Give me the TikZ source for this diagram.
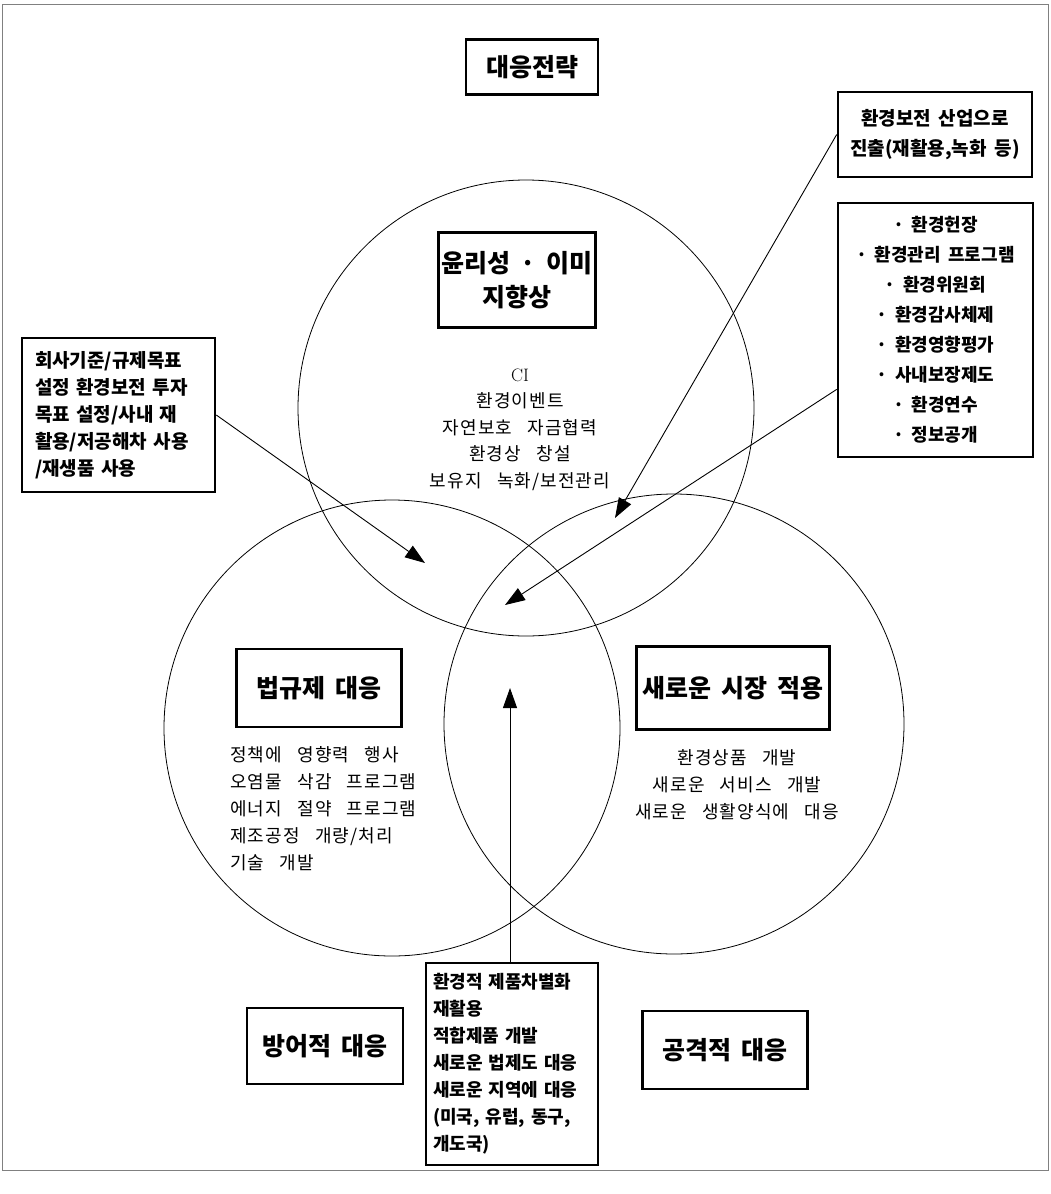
\documentclass[tikz,border=0pt]{standalone}
\usepackage{fontspec}
\usetikzlibrary{arrows.meta}
\newfontfamily\kr{Noto Sans CJK KR}
\newfontfamily\krwide{Noto Sans CJK KR}[WordSpace=3, LetterSpace=6]
\newfontfamily\krtitle{Noto Sans CJK KR}[WordSpace=1.8]
\begin{document}
\begin{tikzpicture}[x=1pt, y=-1pt,
                    framebox/.style={draw, fill=white, line width=2.6pt, inner sep=0pt},
                    titlebox/.style={framebox, align=center, font=\krtitle\bfseries\fontsize{25}{34}\selectfont},
                    listbox/.style={framebox, font=\kr\bfseries\fontsize{18}{27}\selectfont},
                    items/.style={inner sep=0pt, font=\krwide\fontsize{18}{27}\selectfont},
                    pointer/.style={-{Triangle[length=20pt, width=14pt]}, line width=0.9pt},
                    ring/.style={line width=0.8pt}]
  \useasboundingbox (0,0) rectangle (1051,1194);
  \draw[gray, line width=0.5pt] (2,4) rectangle (1048,1170);

  % three circles
  \draw[ring] (526,408) circle[radius=228];
  \draw[ring] (392,728) circle[radius=228];
  \draw[ring] (674,724) circle[radius=230];

  % headings
  \node[titlebox, minimum width=132, minimum height=55] (strategy) at (532,67) {대응전략};
  \node[titlebox, minimum width=157, minimum height=95] (ethics) at (517,280)
    {윤리성 · 이미\\지향상};
  \node[titlebox, minimum width=165, minimum height=78] (legal) at (319,688) {법규제 대응};
  \node[titlebox, minimum width=193, minimum height=83] (market) at (733,688) {새로운 시장 적용};
  \node[titlebox, minimum width=156, minimum height=76] (defense) at (325,1046) {방어적 대응};
  \node[titlebox, minimum width=165, minimum height=78] (attack) at (725,1050) {공격적 대응};

  % boxes with lists
  \node[listbox, align=center, minimum width=194, minimum height=85,
        font=\kr\bfseries\fontsize{19}{30}\selectfont] (industry) at (935,134.5)
    {환경보전 산업으로\\진출(재활용,녹화 등)};
  \node[listbox, align=center, minimum width=195, minimum height=254,
        font=\kr\bfseries\fontsize{18}{30}\selectfont] (mgmt) at (935.5,330)
    {· 환경헌장\\· 환경관리 프로그램\\· 환경위원회\\· 환경감사체제\\
     · 환경영향평가\\· 사내보장제도\\· 환경연수\\· 정보공개};
  \node[listbox, align=left, text width=167, inner xsep=13, minimum height=154,
        font=\kr\bfseries\fontsize{19}{27}\selectfont] (goals) at (118.5,415)
    {회사기준/규제목표\\설정 환경보전 투자\\목표 설정/사내 재\\활용/저공해차 사용\\/재생품 사용};
  \node[listbox, align=left, text width=158, inner xsep=7, minimum height=202] (proposal) at (512,1064)
    {환경적 제품차별화\\재활용\\적합제품 개발\\새로운 법제도 대응\\새로운 지역에 대응\\
     (미국, 유럽, 동구,\\개도국)};

  % plain texts in the circles
  \node[items, align=center, font=\krwide\fontsize{18}{26.5}\selectfont] (ethicsitems) at (520,429.5)
    {{\rmfamily CI}\\환경이벤트\\자연보호 자금협력\\환경상 창설\\보유지 녹화/보전관리};
  \node[items, align=left, anchor=west] (legalitems) at (230,808.5)
    {정책에 영향력 행사\\오염물 삭감 프로그램\\에너지 절약 프로그램\\제조공정 개량/처리\\기술 개발};
  \node[items, align=center] (marketitems) at (737,785)
    {환경상품 개발\\새로운 서비스 개발\\새로운 생활양식에 대응};

  % arrows into the overlaps
  \coordinate (tipA) at (425,563);
  \coordinate (tipB) at (615,518);
  \coordinate (tipC) at (505,605);
  \coordinate (tipD) at (510,688);
  \draw[pointer] (goals.east) -- (tipA);
  \draw[pointer] (industry.west) -- (tipB);
  \draw[pointer] (mgmt.211) -- (tipC);
  \draw[pointer] (proposal.north -| tipD) -- (tipD);
\end{tikzpicture}
\end{document}
